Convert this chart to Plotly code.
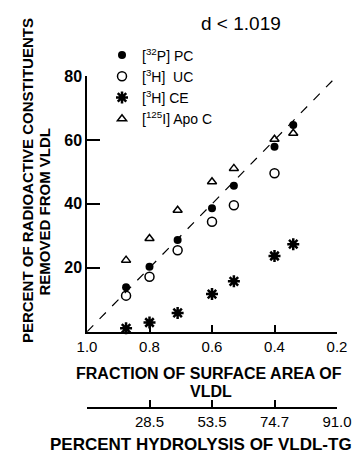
import plotly.graph_objects as go

# ---- data ----
frac_pc = [0.875, 0.80, 0.71, 0.60, 0.53, 0.40, 0.34]
pc_vals = [13.9, 20.3, 28.7, 38.6, 45.7, 57.9, 64.7]

frac_uc = [0.875, 0.80, 0.71, 0.60, 0.53, 0.40]
uc_vals = [11.3, 17.2, 25.5, 34.4, 39.6, 49.6]

frac_ce = [0.875, 0.80, 0.71, 0.60, 0.53, 0.40, 0.34]
ce_vals = [1.1, 2.9, 5.9, 11.8, 15.8, 23.7, 27.4]

frac_apo = [0.875, 0.80, 0.71, 0.60, 0.53, 0.40, 0.34]
apo_vals = [22.4, 29.2, 38.0, 46.9, 51.1, 60.2, 62.1]

diag_x = [1.0, 0.2]
diag_y = [0, 80]

frac_ticks = [1.0, 0.8, 0.6, 0.4, 0.2]
frac_labels = ["1.0", "0.8", "0.6", "0.4", "0.2"]
hydro_labels = ["", "28.5", "53.5", "74.7", "91.0"]
y_ticks = [20, 40, 60, 80]

SANS = "Liberation Sans, Arial, sans-serif"


def cfont(size, bold=False):
    d = dict(family=SANS, size=size, color="black")
    if bold:
        d["weight"] = "bold"
    return d


fig = go.Figure()

fig.add_trace(go.Scatter(x=diag_x, y=diag_y, mode="lines",
                         line=dict(color="black", width=1.2, dash="dash"),
                         showlegend=False, hoverinfo="skip"))

fig.add_trace(go.Scatter(x=frac_pc, y=pc_vals, mode="markers", name="[<sup>32</sup>P] PC",
                         legendgroup="a",
                         marker=dict(symbol="circle", size=8, color="black"), cliponaxis=False))
fig.add_trace(go.Scatter(x=frac_uc, y=uc_vals, mode="markers", name="[<sup>3</sup>H]  UC",
                         legendgroup="b",
                         marker=dict(symbol="circle-open", size=9, color="black",
                                     line=dict(width=1.5, color="black")), cliponaxis=False))
fig.add_trace(go.Scatter(x=frac_ce, y=ce_vals, mode="markers", name="[<sup>3</sup>H] CE",
                         legendgroup="c",
                         marker=dict(symbol="asterisk-open", size=10, color="black",
                                     line=dict(width=2.5, color="black")), cliponaxis=False))
fig.add_trace(go.Scatter(x=frac_apo, y=apo_vals, mode="markers", name="[<sup>125</sup>I] Apo C",
                         legendgroup="d",
                         marker=dict(symbol="triangle-up-open", size=8, color="black",
                                     line=dict(width=1.5, color="black")), cliponaxis=False))

# invisible trace to realise the second x axis
fig.add_trace(go.Scatter(x=frac_ticks, y=[0] * len(frac_ticks), xaxis="x2", mode="markers",
                         marker=dict(opacity=0), showlegend=False, hoverinfo="skip"))

fig.update_layout(
    width=364, height=455,
    margin=dict(l=87, r=18, t=76, b=47),
    paper_bgcolor="white", plot_bgcolor="white",
    showlegend=True,
    legend=dict(x=0.06, y=1.11, xanchor="left", yanchor="top",
                font=cfont(14),
                traceorder="grouped", tracegroupgap=0, bgcolor="rgba(0,0,0,0)"),
    xaxis=dict(range=[1.0, 0.2], tickvals=frac_ticks, ticktext=frac_labels,
               ticks="inside", ticklen=7, tickwidth=1.5, tickcolor="black",
               showline=True, linecolor="black", linewidth=1.5,
               showgrid=False, zeroline=False,
               tickfont=cfont(15)),
    xaxis2=dict(range=[1.0, 0.2], overlaying="x", anchor="free", position=0,
                tickvals=frac_ticks, ticktext=hydro_labels,
                ticks="inside", ticklen=7, tickwidth=1.5, tickcolor="black",
                showline=True, linecolor="black", linewidth=1.5,
                showgrid=False, zeroline=False, side="bottom",
                tickfont=cfont(15)),
    yaxis=dict(range=[0, 80], domain=[0.2296, 1], tickvals=y_ticks,
               ticks="inside", ticklen=13, tickwidth=1.5, tickcolor="black",
               showline=True, linecolor="black", linewidth=1.5,
               showgrid=False, zeroline=False, ticklabelstandoff=0,
               tickfont=cfont(16, True)),
)

ann = [
    dict(text="d < 1.019", x=247, y=23, font=cfont(19)),
    dict(text="PERCENT OF RADIOACTIVE CONSTITUENTS", x=26, y=181, textangle=-90,
         font=cfont(15, True)),
    dict(text="REMOVED FROM VLDL", x=44, y=211, textangle=-90,
         font=cfont(15, True)),
    dict(text="FRACTION OF SURFACE AREA OF", x=213, y=373,
         font=cfont(16, True)),
    dict(text="VLDL", x=215, y=391, font=cfont(16, True)),
    dict(text="PERCENT HYDROLYSIS OF VLDL-TG", x=205, y=444,
         font=cfont(17, True)),
]
for a in ann:
    # convert pixel coords into paper coords
    px, py = a.pop("x"), a.pop("y")
    xp = (px - 87) / (364 - 87 - 18)
    yp = 1 - (py - 76) / (455 - 76 - 47)
    fig.add_annotation(x=xp, y=yp, xref="paper", yref="paper", showarrow=False,
                       xanchor="center", yanchor="middle", **a)

fig.write_html("out.html")
